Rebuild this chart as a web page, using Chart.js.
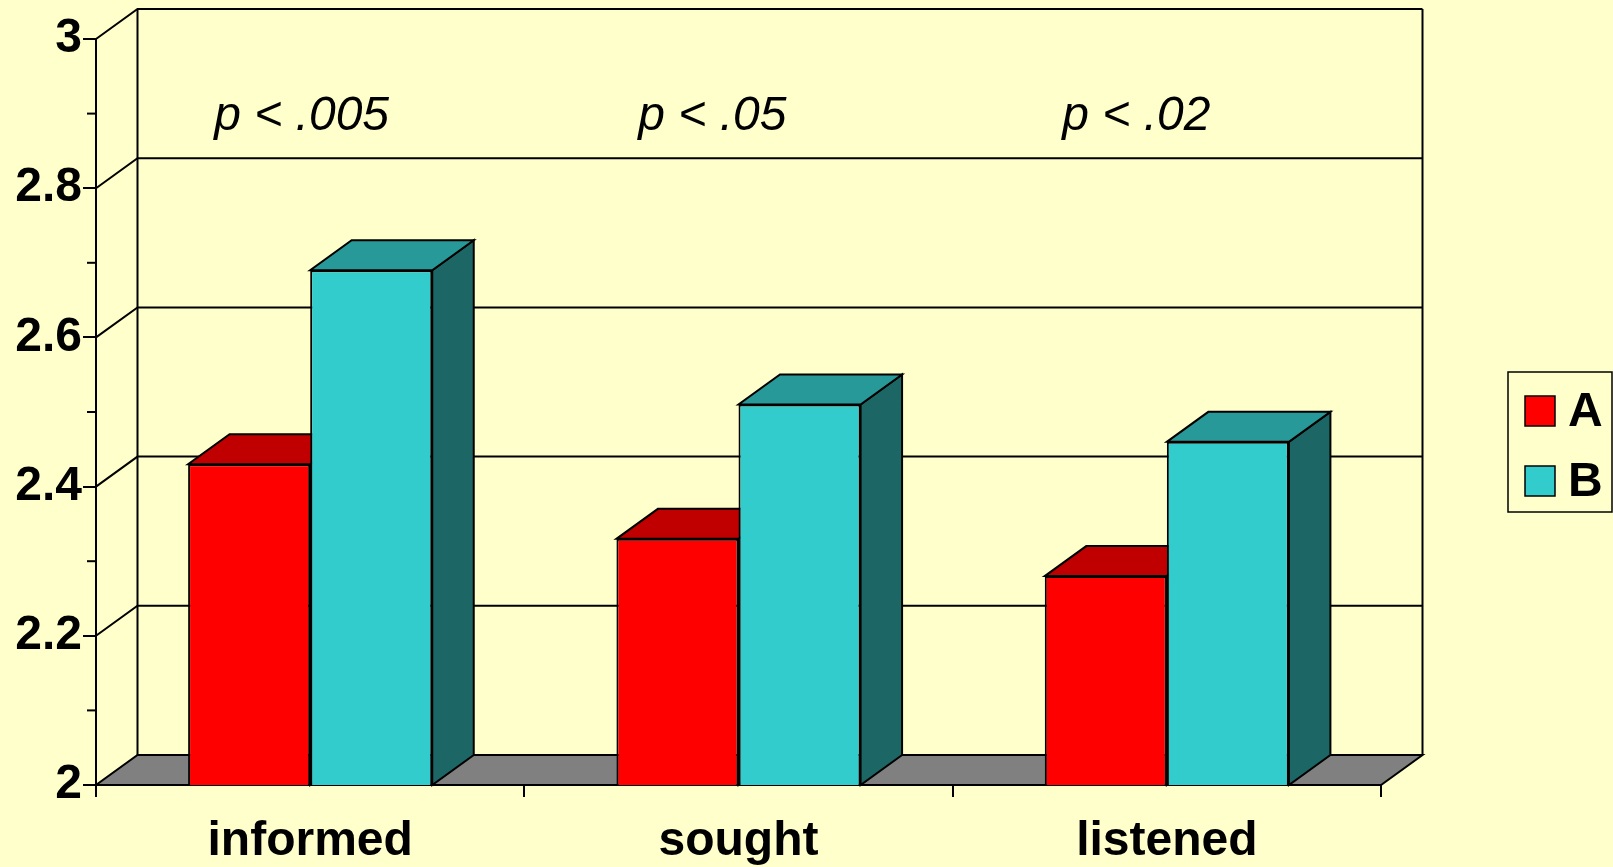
<!DOCTYPE html>
<html>
<head>
<meta charset="utf-8">
<script src="https://cdn.jsdelivr.net/npm/chart.js@4.4.1/dist/chart.umd.min.js"></script>
<style>
html,body{margin:0;padding:0;background:#FFFFCC;}
canvas{display:block;}
</style>
</head>
<body>
<canvas id="c" width="1613" height="867"></canvas>
<script>
// data
const categories=["informed","sought","listened"];
const seriesNames=["A","B"];
const seriesA=[2.43,2.33,2.28];
const seriesB=[2.69,2.51,2.46];
const pLabels=["p < .005","p < .05","p < .02"];
const yMin=2,yMax=3,yStep=0.2;

// look
const FONT="'Liberation Sans', Arial, sans-serif";
const BG="#FFFFCC";
const FLOOR="#808080";
const DX=41.5,DY=30;
const FACE=[
  {front:"#FF0000",top:"#C00000",side:"#990000"},
  {front:"#33CCCC",top:"#289999",side:"#1C6666"}
];

function poly(c,pts,fill){
  c.beginPath();
  c.moveTo(pts[0][0],pts[0][1]);
  for(let i=1;i<pts.length;i++)c.lineTo(pts[i][0],pts[i][1]);
  c.closePath();
  if(fill){c.fillStyle=fill;c.fill();}
  c.stroke();
}

const threeD={
  id:"threeD",
  beforeDraw(chart){
    const c=chart.ctx;
    c.save();c.fillStyle=BG;c.fillRect(0,0,chart.width,chart.height);c.restore();
  },
  beforeDatasetsDraw(chart){
    const c=chart.ctx,a=chart.chartArea,ys=chart.scales.y;
    c.save();
    c.strokeStyle="#000";c.lineWidth=2;c.lineJoin="miter";
    // back wall edges
    c.beginPath();
    c.moveTo(a.left+DX,a.bottom-DY);c.lineTo(a.left+DX,a.top-DY);
    c.moveTo(a.right+DX,a.bottom-DY);c.lineTo(a.right+DX,a.top-DY);
    c.stroke();
    // gridlines on back wall + side wall diagonals
    const n=Math.round((yMax-yMin)/yStep);
    for(let i=1;i<=n;i++){
      const py=ys.getPixelForValue(yMin+i*yStep);
      c.beginPath();
      c.moveTo(a.left,py);c.lineTo(a.left+DX,py-DY);c.lineTo(a.right+DX,py-DY);
      c.stroke();
    }
    // minor ticks
    for(let i=1;i<n*2;i+=2){
      const py=ys.getPixelForValue(yMin+i*yStep/2);
      c.beginPath();c.moveTo(a.left-9,py);c.lineTo(a.left,py);c.stroke();
    }
    // floor
    poly(c,[[a.left,a.bottom],[a.right,a.bottom],[a.right+DX,a.bottom-DY],[a.left+DX,a.bottom-DY]],FLOOR);
    // bar tops and sides, left to right
    const b=ys.getPixelForValue(yMin);
    for(let i=0;i<categories.length;i++){
      for(let d=0;d<chart.data.datasets.length;d++){
        const el=chart.getDatasetMeta(d).data[i];
        const p=el.getProps(["x","y","width"],true);
        const l=p.x-p.width/2,r=p.x+p.width/2,t=p.y;
        poly(c,[[r,t],[r+DX,t-DY],[r+DX,b-DY],[r,b]],FACE[d].side);
        poly(c,[[l,t],[r,t],[r+DX,t-DY],[l+DX,t-DY]],FACE[d].top);
      }
    }
    c.restore();
  },
  afterDraw(chart){
    const c=chart.ctx,a=chart.chartArea,ys=chart.scales.y;
    const catW=(a.right-a.left)/categories.length;
    c.save();
    c.fillStyle="#000";
    c.font="italic 48px "+FONT;
    c.textAlign="left";c.textBaseline="alphabetic";
    pLabels.forEach((t,i)=>{
      c.fillText(t,a.left+catW*(0.276+0.99*i),ys.getPixelForValue(2.878));
    });
    // legend
    const lx=1508,ly=372,lw=104,lh=140;
    c.fillStyle=BG;c.fillRect(lx,ly,lw,lh);
    c.strokeStyle="#000";c.lineWidth=1.5;c.strokeRect(lx,ly,lw,lh);
    c.font="bold 48px "+FONT;c.textBaseline="middle";
    seriesNames.forEach((s,k)=>{
      const sy=ly+24+k*70;
      c.fillStyle=FACE[k].front;c.fillRect(lx+17,sy,30,30);
      c.lineWidth=1.5;c.strokeRect(lx+17,sy,30,30);
      c.fillStyle="#000";c.fillText(s,lx+60,sy+17);
    });
    c.restore();
  }
};

new Chart(document.getElementById("c"),{
  type:"bar",
  data:{
    labels:categories,
    datasets:[
      {label:seriesNames[0],data:seriesA,backgroundColor:FACE[0].front,borderColor:"#000",borderWidth:2,borderSkipped:false},
      {label:seriesNames[1],data:seriesB,backgroundColor:FACE[1].front,borderColor:"#000",borderWidth:2,borderSkipped:false}
    ]
  },
  options:{
    responsive:false,
    animation:false,
    layout:{padding:{top:39,right:232,bottom:0,left:0}},
    datasets:{bar:{categoryPercentage:0.57,barPercentage:1}},
    plugins:{legend:{display:false},tooltip:{enabled:false}},
    scales:{
      x:{
        grid:{offset:true,drawOnChartArea:false,tickLength:12,color:"#000",lineWidth:2},
        border:{display:true,color:"#000",width:2},
        ticks:{font:{family:FONT,size:48,weight:"bold"},color:"#000",padding:16},
        afterFit(s){s.height=82;}
      },
      y:{
        min:yMin,max:yMax,
        grid:{drawOnChartArea:false,tickLength:13,color:"#000",lineWidth:2},
        border:{display:true,color:"#000",width:2},
        ticks:{stepSize:yStep,font:{family:FONT,size:48,weight:"bold"},color:"#000",padding:1,
          callback:v=>String(Math.round(v*10)/10)},
        afterFit(s){s.width=96;}
      }
    }
  },
  plugins:[threeD]
});
</script>
</body>
</html>
